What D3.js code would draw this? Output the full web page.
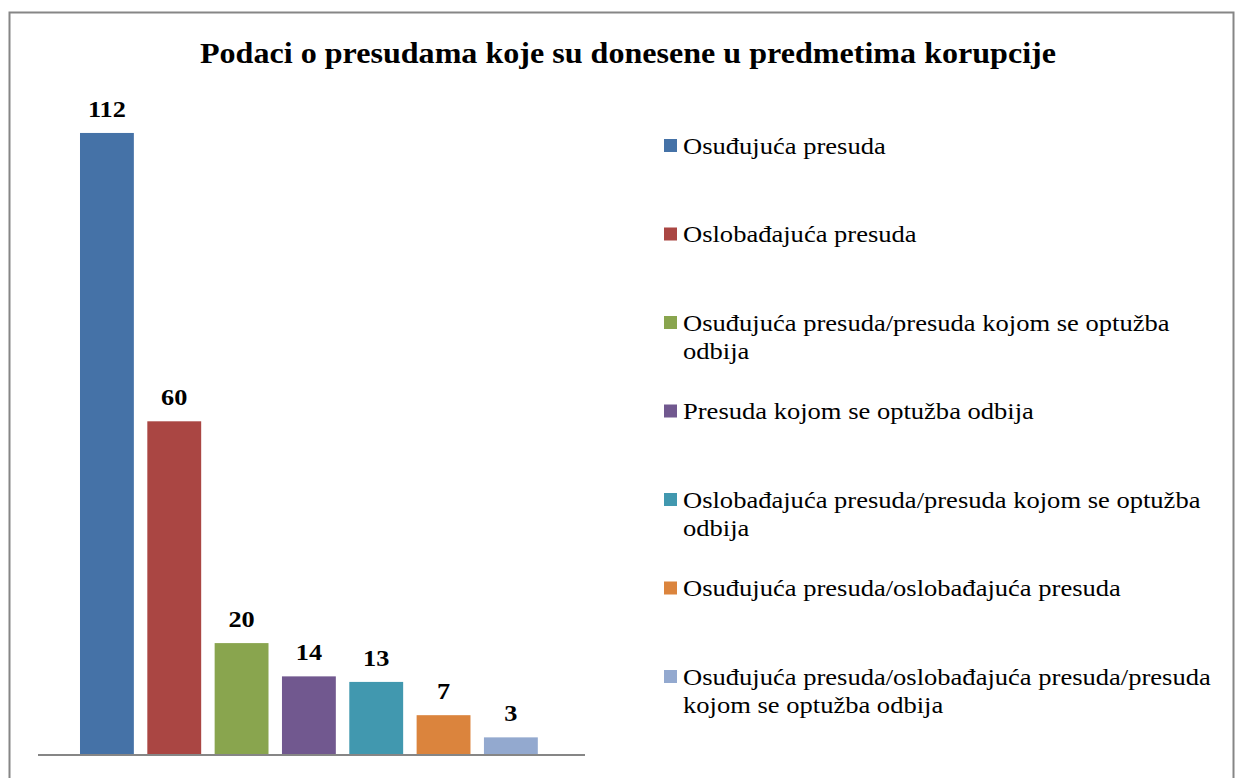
<!DOCTYPE html>
<html>
<head>
<meta charset="utf-8">
<script src="https://cdn.jsdelivr.net/npm/d3@7"></script>
<style>
  body { margin: 0; background: #fff; }
  svg { display: block; }
</style>
</head>
<body>
<div id="chart"></div>
<script>
// chart data
var categories = [
    "Osuđujuća presuda",
    "Oslobađajuća presuda",
    "Osuđujuća presuda/presuda kojom se optužba odbija",
    "Presuda kojom se optužba odbija",
    "Oslobađajuća presuda/presuda kojom se optužba odbija",
    "Osuđujuća presuda/oslobađajuća presuda",
    "Osuđujuća presuda/oslobađajuća presuda/presuda kojom se optužba odbija"
];
var values = [112, 60, 20, 14, 13, 7, 3];
var colors = ["#4572a7", "#aa4643", "#89a54e", "#71588f", "#4198af", "#db843d", "#93a9cf"];
// legend labels, split into lines as in the original
var legend_lines = [
    ["Osuđujuća presuda"],
    ["Oslobađajuća presuda"],
    ["Osuđujuća presuda/presuda kojom se optužba", "odbija"],
    ["Presuda kojom se optužba odbija"],
    ["Oslobađajuća presuda/presuda kojom se optužba", "odbija"],
    ["Osuđujuća presuda/oslobađajuća presuda"],
    ["Osuđujuća presuda/oslobađajuća presuda/presuda", "kojom se optužba odbija"]
];
var title = "Podaci o presudama koje su donesene u predmetima korupcije";

var w = 1235,
    h = 778,
    font = "Liberation Serif";

var svg = d3.select("#chart")
    .append("svg")
    .attr("width", w)
    .attr("height", h);

// outer border of the chart area
svg.append("rect")
    .attr("x", 9.5)
    .attr("y", 12.5)
    .attr("width", w - 11)
    .attr("height", h)
    .attr("fill", "none")
    .attr("stroke", "#868686")
    .attr("stroke-width", 2);

// the original text is a bit wider than plain Times, so stretch it slightly
svg.append("text")
    .attr("transform", "translate(628,63) scale(1.07,1)")
    .attr("text-anchor", "middle")
    .attr("font-family", font)
    .attr("font-size", 30)
    .attr("font-weight", "bold")
    .text(title);

// scales
var x = d3.scaleBand()
    .domain(categories)
    .range([39.6, 578.2])
    .paddingInner(0.2)
    .paddingOuter(0.6);

var y = d3.scaleLinear()
    .domain([0, 120])
    .range([754, 88.6]);

var bars = svg.selectAll(".bar")
    .data(values)
    .enter().append("g")
    .attr("class", "bar");

bars.append("rect")
    .attr("x", function(d, i) { return x(categories[i]); })
    .attr("y", function(d) { return y(d); })
    .attr("width", x.bandwidth())
    .attr("height", function(d) { return y(0) - y(d); })
    .style("fill", function(d, i) { return colors[i]; });

// value labels
bars.append("text")
    .attr("transform", function(d, i) {
        return "translate(" + (x(categories[i]) + x.bandwidth() / 2) + "," + (y(d) - 16) + ") scale(1.12,1)";
    })
    .attr("text-anchor", "middle")
    .attr("font-family", font)
    .attr("font-size", 23.5)
    .attr("font-weight", "bold")
    .text(function(d) { return d; });

// category axis line
svg.append("line")
    .attr("x1", 38)
    .attr("x2", 585)
    .attr("y1", y(0) + 1)
    .attr("y2", y(0) + 1)
    .attr("stroke", "#868686")
    .attr("stroke-width", 2);

// legend
var legend = svg.selectAll(".legend")
    .data(legend_lines)
    .enter().append("g")
    .attr("class", "legend")
    .attr("transform", function(d, i) {
        return "translate(0," + (145.5 + i * 88.5) + ")";
    });

legend.append("rect")
    .attr("x", 664)
    .attr("y", -6.5)
    .attr("width", 13)
    .attr("height", 13)
    .style("fill", function(d, i) { return colors[i]; });

legend.append("text")
    .attr("transform", "translate(683,8) scale(1.13,1)")
    .attr("font-family", font)
    .attr("font-size", 23.5)
    .selectAll("tspan")
    .data(function(d) { return d; })
    .enter().append("tspan")
    .attr("x", 0)
    .attr("dy", function(d, i) { return i == 0 ? 0 : 29; })
    .text(function(d) { return d; });
</script>
</body>
</html>
